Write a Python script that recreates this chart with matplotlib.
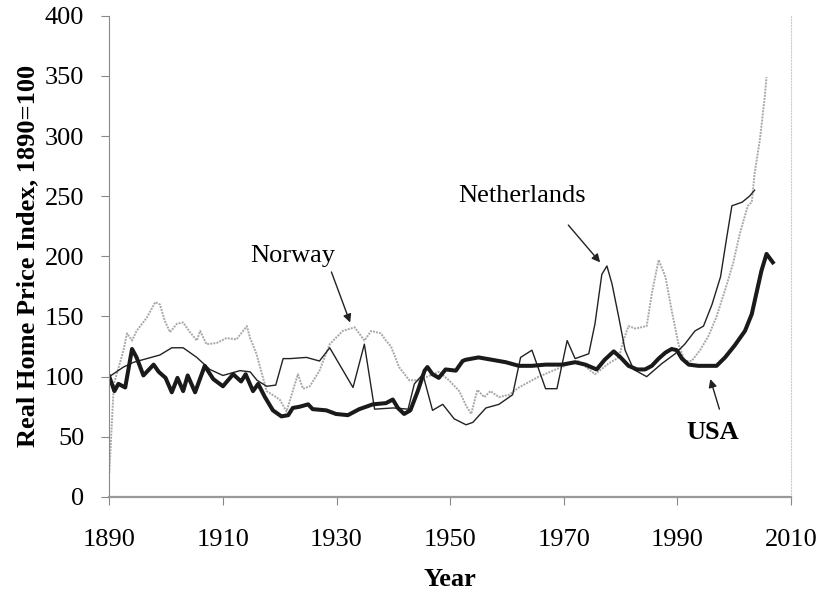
import numpy as np
import matplotlib.pyplot as plt

##### Data #####
usa_year = [1890, 1890.9, 1891.6, 1892.8, 1894, 1894.8, 1896, 1897, 1897.8, 1898.7,
            1899.9, 1901, 1902, 1903, 1903.8, 1905.1, 1906.8, 1908.3, 1910, 1911.8,
            1913.2, 1914, 1915.3, 1916.2, 1917.4, 1918.8, 1920.3, 1921.5, 1922.3, 1923.5,
            1925, 1925.8, 1928.2, 1929.9, 1932, 1934, 1936.4, 1938.7, 1939.9, 1940.8,
            1941.9, 1943, 1944.3, 1945.5, 1946, 1946.9, 1948, 1949.2, 1951, 1952.2,
            1952.7, 1955, 1957.4, 1959.8, 1962.1, 1964.4, 1966.8, 1969.7, 1972, 1973.8,
            1975.8, 1977.2, 1978.8, 1980, 1981.4, 1982.9, 1984.3, 1985.5, 1986.7, 1987.9,
            1989, 1989.9, 1990.8, 1992, 1993.7, 1995.5, 1996.9, 1998.4, 2000.1, 2001.9,
            2003.1, 2003.9, 2004.8, 2005.7, 2006.8]
usa_val = [100, 88, 94, 91, 123, 116, 101, 106, 110, 104,
           99, 87, 99, 88, 101, 87, 109, 98, 92, 102,
           96, 102, 88, 94, 83, 72, 67, 68, 74, 75,
           77, 73, 72, 69, 68, 73, 77, 78, 81, 74,
           69, 72, 88, 105, 108, 102, 99, 106, 105, 113,
           114, 116, 114, 112, 109, 109, 110, 110, 112, 110,
           106, 114, 121, 116, 109, 106, 106, 109, 115, 120,
           123, 122, 115, 110, 109, 109, 109, 116, 126, 138,
           152, 169, 188, 202, 195]

nl_year = [1890, 1892.5, 1894.3, 1896.6, 1898.9, 1901, 1903, 1905.4, 1907.7, 1910,
           1913, 1914.8, 1916, 1917.7, 1919.3, 1920.6, 1921.8, 1924.7, 1927, 1928.8,
           1932.9, 1934.9, 1936.7, 1940, 1942.6, 1943.7, 1945.2, 1946.9, 1948.7, 1950.7,
           1952.8, 1954, 1956.3, 1958.6, 1961, 1962.4, 1964.4, 1966.8, 1968.8, 1970.6,
           1972, 1973.2, 1974.4, 1975.5, 1976.7, 1977.6, 1978.5, 1979.7, 1980.8, 1982.3,
           1984.6, 1987.3, 1989.6, 1991.3, 1993.1, 1994.6, 1996.1, 1997.6, 1998.7, 1999.6,
           2001.4, 2002.7, 2003.6]
nl_val = [100, 108, 112, 115, 118, 124, 124, 116, 106, 101,
          105, 104, 97, 92, 93, 115, 115, 116, 113, 124,
          91, 127, 73, 74, 73, 94, 102, 72, 77, 65,
          60, 62, 74, 77, 85, 116, 122, 90, 90, 130,
          115, 117, 119, 144, 185, 192, 177, 149, 122, 106,
          100, 111, 119, 127, 138, 142, 160, 183, 216, 242,
          245, 250, 255]

nor_year = [1890, 1890.8, 1891.9, 1892.5, 1893.1, 1894, 1894.8, 1896.6, 1898.1, 1898.9,
            1899.8, 1900.7, 1901.9, 1903, 1904.2, 1905.4, 1906, 1907.1, 1908.9, 1910.6,
            1912.4, 1914.2, 1914.8, 1915.9, 1917.7, 1920, 1921.2, 1922.1, 1923.2, 1924.1,
            1925.3, 1927, 1928.8, 1931.1, 1933.2, 1934.9, 1936.1, 1937.8, 1938.7, 1939.6,
            1941, 1942.8, 1944.3, 1946, 1948, 1949.8, 1951.6, 1952.8, 1953.7, 1954.8,
            1956, 1957.1, 1958.6, 1960.4, 1962.1, 1965.6, 1969.1, 1972.6, 1975.5, 1977.9,
            1979.7, 1980.5, 1981.4, 1982.6, 1984.6, 1985.5, 1986.7, 1987.9, 1989, 1990.2,
            1991.3, 1992.5, 1994, 1995.5, 1996.9, 1998.4, 1999.8, 2001, 2002.4, 2003.1,
            2003.6, 2004.5, 2005.4, 2005.7]
nor_val = [20, 94, 112, 122, 136, 130, 138, 149, 162, 160,
           146, 137, 144, 145, 137, 130, 138, 127, 128, 132,
           131, 142, 132, 119, 88, 81, 71, 85, 102, 90,
           92, 105, 127, 138, 141, 130, 138, 136, 130, 125,
           108, 97, 97, 100, 104, 97, 88, 76, 69, 89,
           83, 88, 83, 85, 91, 100, 107, 113, 102, 111,
           116, 130, 142, 140, 142, 169, 197, 183, 155, 127,
           113, 113, 122, 134, 150, 172, 194, 219, 242, 245,
           269, 296, 333, 349]

xticks = [1890, 1910, 1930, 1950, 1970, 1990, 2010]
yticks = [0, 50, 100, 150, 200, 250, 300, 350, 400]
########################

plt.rcParams['font.family'] = ['Liberation Serif', 'DejaVu Serif']

fig = plt.figure(figsize=(8.2, 5.92), dpi=100)
ax = fig.add_axes([0.1333, 0.1605, 0.8313, 0.813])

ax.plot(nor_year, nor_val, color='#a8a8a8', lw=1.4, ls=(0, (1, 0.6)))
ax.plot(nl_year, nl_val, color='#222222', lw=1.0)
ax.plot(usa_year, usa_val, color='#1a1a1a', lw=2.9, solid_joinstyle='round')

ax.set_xlim(1890, 2010)
ax.set_ylim(0, 400)
ax.set_xticks(xticks)
ax.set_yticks(yticks)
ax.tick_params(axis='both', labelsize=19, color='#888888', length=6)
ax.tick_params(axis='x', pad=17)
ax.tick_params(axis='y', pad=12)

ax.spines['top'].set_visible(False)
ax.spines['left'].set_color('#888888')
ax.spines['left'].set_linewidth(0.8)
ax.spines['bottom'].set_color('#999999')
ax.spines['bottom'].set_linewidth(1.6)
ax.spines['right'].set_color('#cccccc')
ax.spines['right'].set_linestyle(':')

ax.set_xlabel('Year', fontsize=19, fontweight='bold', labelpad=12)
ax.set_ylabel('Real Home Price Index, 1890=100', fontsize=19, fontweight='bold', labelpad=4)

# labels and arrows
arw = dict(arrowstyle='-|>', color='#222222', lw=1.0, mutation_scale=12, shrinkA=0, shrinkB=0)
ax.text(1914.8, 195, 'Norway', fontsize=19, ha='left', va='baseline')
ax.annotate('', xy=(1932.4, 145), xytext=(1929.1, 187), arrowprops=arw)
ax.text(1951.4, 245, 'Netherlands', fontsize=19, ha='left', va='baseline')
ax.annotate('', xy=(1976.4, 195), xytext=(1970.8, 226), arrowprops=arw)
ax.text(1991.6, 48, 'USA', fontsize=19, fontweight='bold', ha='left', va='baseline')
ax.annotate('', xy=(1995.8, 98), xytext=(1997.4, 73), arrowprops=arw)

plt.savefig('out.png', dpi=100)
